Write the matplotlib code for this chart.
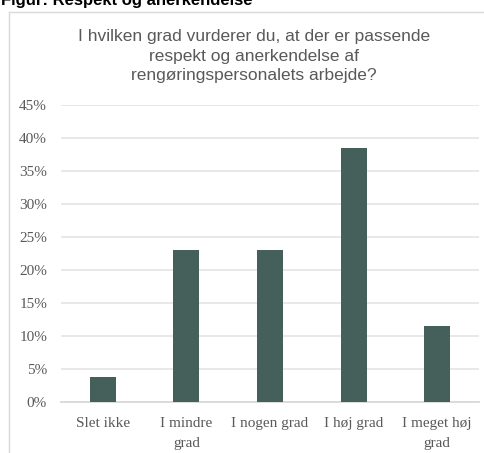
import matplotlib
matplotlib.use("Agg")
import matplotlib.pyplot as plt
from matplotlib.lines import Line2D
from matplotlib.ticker import MultipleLocator, PercentFormatter

categories = ["Slet ikke", "I mindre\ngrad", "I nogen grad", "I høj grad", "I meget høj\ngrad"]
values = [0.0385, 0.2308, 0.2308, 0.3846, 0.1154]

bar_color = "#455f5b"
text_grey = "#595959"

W, H = 485, 453
fig = plt.figure(figsize=(W / 100, H / 100), dpi=100)
ax = fig.add_axes([61 / W, 1 - 402 / H, (479 - 61) / W, (402 - 105) / H])

x = range(len(categories))
ax.bar(x, values, width=0.31, color=bar_color, zorder=3)

ax.set_ylim(0, 0.45)
ax.set_xlim(-0.5, len(categories) - 0.5)
ax.yaxis.set_major_locator(MultipleLocator(0.05))
ax.yaxis.set_major_formatter(PercentFormatter(1.0, decimals=0))
ax.grid(axis="y", color="#e6e6e6", linewidth=1.3, zorder=0)
for s in ["top", "right", "left"]:
    ax.spines[s].set_visible(False)
ax.spines["bottom"].set_color("#d9d9d9")
ax.spines["bottom"].set_linewidth(1.3)

ax.set_xticks(list(x))
ax.set_xticklabels(categories, linespacing=1.75)
ax.tick_params(axis="both", length=0, colors=text_grey, labelsize=11)
ax.tick_params(axis="y", pad=10)
ax.tick_params(axis="x", pad=10.5)
for lbl in ax.get_xticklabels() + ax.get_yticklabels():
    lbl.set_fontfamily("Liberation Serif")

# chart title
fig.text(254 / W, 1 - 29 / H,
         "I hvilken grad vurderer du, at der er passende\nrespekt og anerkendelse af\nrengøringspersonalets arbejde?",
         ha="center", va="top", fontsize=12.5, color=text_grey,
         family="Liberation Sans", linespacing=1.38)

# figure caption, clipped at the top edge
fig.text(1 / W, 1 - 5 / H, "Figur: Respekt og anerkendelse", ha="left", va="baseline",
         fontsize=12, fontweight="bold", color="black", family="Liberation Sans")

# chart frame (left and top edge)
fig.add_artist(Line2D([9.5 / W, 9.5 / W], [0, 1 - 11.5 / H], color="#d9d9d9", linewidth=1, transform=fig.transFigure))
fig.add_artist(Line2D([9.5 / W, 1], [1 - 11.5 / H, 1 - 11.5 / H], color="#d9d9d9", linewidth=1, transform=fig.transFigure))

fig.savefig("out.png", dpi=100)
